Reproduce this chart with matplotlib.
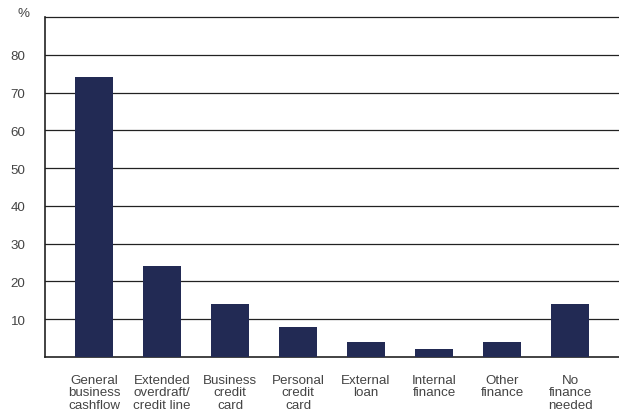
import matplotlib.pyplot as plt

categories = ['General\nbusiness\ncashflow', 'Extended\noverdraft/\ncredit line',
              'Business\ncredit\ncard', 'Personal\ncredit\ncard', 'External\nloan',
              'Internal\nfinance', 'Other\nfinance', 'No\nfinance\nneeded']
values = [74, 24, 14, 8, 4, 2, 4, 14]
yticks = [10, 20, 30, 40, 50, 60, 70, 80]

plt.rcParams['font.family'] = ['Liberation Sans', 'DejaVu Sans']

fig = plt.figure(figsize=(6.19, 4.14), dpi=100)
ax = fig.add_axes([0.0727, 0.1353, 0.9273, 0.8212])

x = range(len(categories))
ax.bar(x, values, width=0.56, color='#222a54', zorder=3)

ax.set_xlim(-0.72, 7.72)
ax.set_ylim(0, 90)
ax.set_yticks(yticks)
ax.set_yticklabels([str(v) for v in yticks])
ax.yaxis.grid(True, color='#222222', linewidth=0.9, zorder=0)
ax.set_xticks(list(x))
ax.set_xticklabels(categories, linespacing=1.06)
ax.tick_params(axis='both', length=0, labelsize=9.6, colors='#444444')
ax.tick_params(axis='y', pad=14)
ax.tick_params(axis='x', pad=12)

ax.spines['right'].set_visible(False)
for side in ['top', 'left', 'bottom']:
    ax.spines[side].set_color('#222222')
ax.spines['top'].set_linewidth(0.9)
ax.spines['left'].set_linewidth(1.2)
ax.spines['bottom'].set_linewidth(1.2)

# "%" unit label above the y axis
fig.text(17 / 619, 1 - 20 / 414, '%', fontsize=9.6, color='#444444', ha='left', va='bottom')

fig.savefig('out.png', dpi=100)
